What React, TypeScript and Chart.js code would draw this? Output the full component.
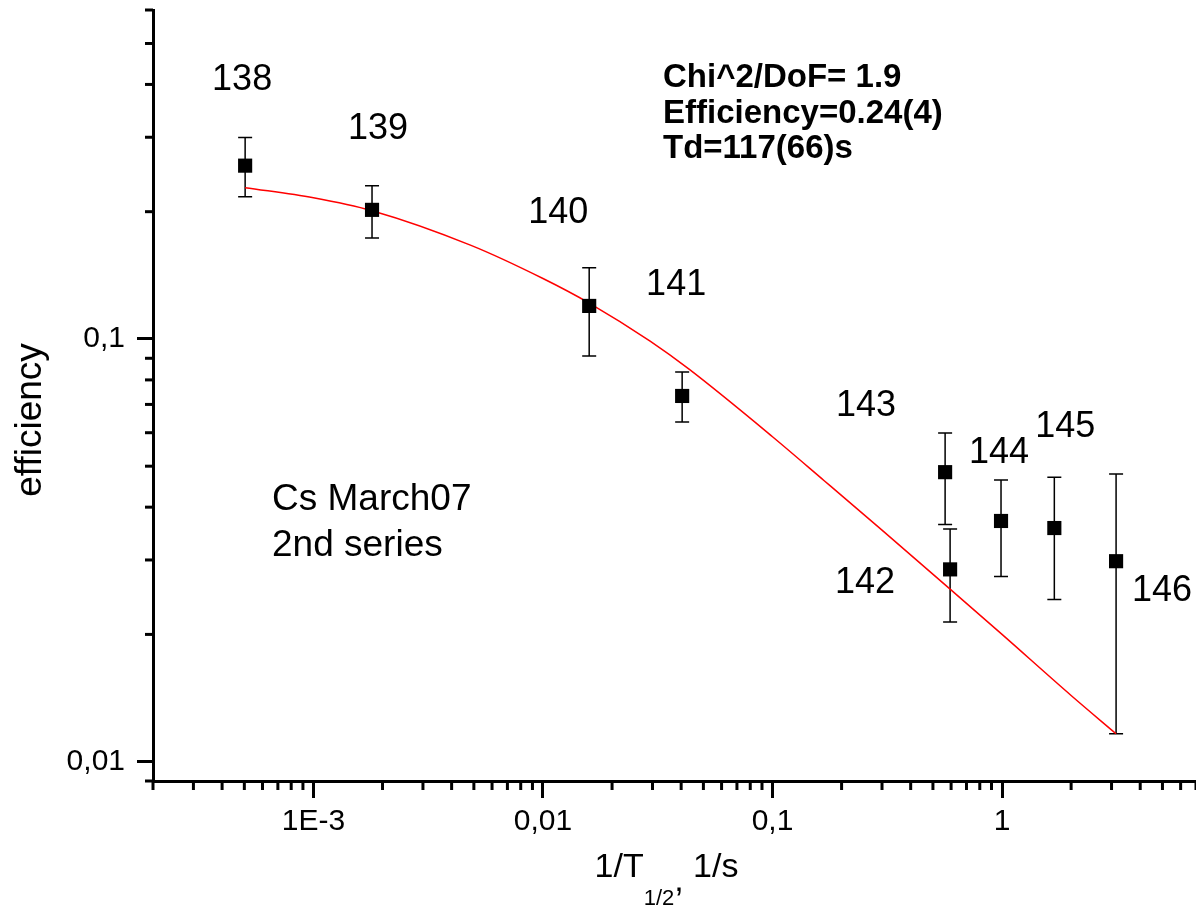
import React, { useEffect, useRef } from 'react';
import { Chart, registerables } from 'chart.js';

Chart.register(...registerables);

// isotopes (Cs mass numbers) used as point labels
const isotopes = ['138', '139', '140', '141', '142', '143', '144', '145', '146'];
// 1/T1/2 in 1/s
const invHalfLife = [5.04e-4, 1.8e-3, 0.0159, 0.0404, 0.594, 0.565, 0.99, 1.69, 3.14];
const efficiency = [0.257, 0.202, 0.1197, 0.0733, 0.0285, 0.0484, 0.0371, 0.0357, 0.0298];
const effUpper = [0.2995, 0.2305, 0.1473, 0.0835, 0.0355, 0.0599, 0.0464, 0.0471, 0.0479];
const effLower = [0.217, 0.1734, 0.0911, 0.0636, 0.0214, 0.0364, 0.0274, 0.0242, 0.01164];

// fitted curve
const fitX = [5.04e-4, 1.0e-3, 1.8e-3, 4.86e-3, 0.01, 0.0159, 0.0293, 0.0433, 0.1, 0.168, 0.3, 0.594, 1.0, 2.0, 3.14];
const fitY = [0.228, 0.2158, 0.2011, 0.1665, 0.139, 0.1216, 0.0988, 0.0848, 0.0587, 0.0462, 0.0353, 0.0256, 0.02, 0.01434, 0.01164];

const xMajorTicks = [1e-3, 0.01, 0.1, 1];
const xTickLabels = ['1E-3', '0,01', '0,1', '1'];
const yMajorTicks = [0.01, 0.1];
const yTickLabels = ['0,01', '0,1'];

const fitInfo = ['Chi^2/DoF= 1.9', 'Efficiency=0.24(4)', 'Td=117(66)s'];
const sampleInfo = ['Cs March07', '2nd series'];

const X_MIN = 2e-4;
const X_MAX = 7;
const Y_MIN = 0.009;
const Y_MAX = 0.6;

// label placement, pixel offsets from each point
const labelOffsets = [
  [-3, -86], [6, -81], [-31, -93], [-6, -111], [-85, 14],
  [-79, -66], [-2, -68], [11, -101], [46, 30],
];

const FONT = '"Liberation Sans", Arial, Helvetica, sans-serif';

function logTicks(min: number, max: number) {
  const ticks: { value: number; major: boolean }[] = [];
  for (let e = Math.floor(Math.log10(min)); e <= Math.ceil(Math.log10(max)); e++) {
    for (let m = 1; m <= 9; m++) {
      const v = m * Math.pow(10, e);
      if (v >= min * 0.9999 && v <= max * 1.0001) ticks.push({ value: v, major: m === 1 });
    }
  }
  return ticks;
}

function labelFor(value: number, majors: number[], labels: string[]) {
  const i = majors.findIndex((m) => Math.abs(Math.log10(m) - Math.log10(value)) < 1e-6);
  return i >= 0 ? labels[i] : '';
}

const extras = {
  id: 'extras',
  beforeDatasetsDraw(chart: any) {
    const { ctx, scales } = chart;
    const x = scales.x;
    const y = scales.y;
    ctx.save();
    ctx.strokeStyle = '#000';
    ctx.lineWidth = 1.5;
    invHalfLife.forEach((v, i) => {
      const px = x.getPixelForValue(v);
      const top = y.getPixelForValue(effUpper[i]);
      const bot = y.getPixelForValue(effLower[i]);
      ctx.beginPath();
      ctx.moveTo(px, top);
      ctx.lineTo(px, bot);
      ctx.moveTo(px - 7, top);
      ctx.lineTo(px + 7, top);
      ctx.moveTo(px - 7, bot);
      ctx.lineTo(px + 7, bot);
      ctx.stroke();
    });
    ctx.restore();
  },
  afterDraw(chart: any) {
    const { ctx, chartArea: area, scales } = chart;
    const x = scales.x;
    const y = scales.y;
    ctx.save();

    // minor ticks
    ctx.strokeStyle = '#000';
    ctx.lineWidth = 3;
    x.ticks.forEach((t: any) => {
      if (t.major) return;
      const px = x.getPixelForValue(t.value);
      ctx.beginPath();
      ctx.moveTo(px, area.bottom);
      ctx.lineTo(px, area.bottom + 9);
      ctx.stroke();
    });
    y.ticks.forEach((t: any) => {
      if (t.major) return;
      const py = y.getPixelForValue(t.value);
      ctx.beginPath();
      ctx.moveTo(area.left, py);
      ctx.lineTo(area.left - 8, py);
      ctx.stroke();
    });

    ctx.fillStyle = '#000';

    // isotope labels
    ctx.font = `36px ${FONT}`;
    ctx.textAlign = 'center';
    ctx.textBaseline = 'middle';
    isotopes.forEach((label, i) => {
      const px = x.getPixelForValue(invHalfLife[i]) + labelOffsets[i][0];
      const py = y.getPixelForValue(efficiency[i]) + labelOffsets[i][1];
      ctx.fillText(label, px, py);
    });

    // text blocks
    ctx.textAlign = 'left';
    ctx.font = `37px ${FONT}`;
    sampleInfo.forEach((line, i) => {
      ctx.fillText(line, area.left + 119, area.top + 490 + i * 46);
    });
    ctx.font = `bold 33px ${FONT}`;
    fitInfo.forEach((line, i) => {
      ctx.fillText(line, area.left + 510, area.top + 68 + i * 35.5);
    });

    // y title
    ctx.save();
    ctx.translate(31, 420);
    ctx.rotate(-Math.PI / 2);
    ctx.font = `37px ${FONT}`;
    ctx.textAlign = 'center';
    ctx.fillText('efficiency', 0, 0);
    ctx.restore();

    // x title with subscript
    const big = `34px ${FONT}`;
    const small = `22px ${FONT}`;
    ctx.textBaseline = 'alphabetic';
    ctx.textAlign = 'left';
    ctx.font = big;
    const w1 = ctx.measureText('1/T').width;
    const w3 = ctx.measureText(', 1/s').width;
    ctx.font = small;
    const w2 = ctx.measureText('1/2').width;
    let cx = (area.left + area.right) / 2 - (w1 + w2 + w3) / 2 - 8;
    const base = 877;
    ctx.font = big;
    ctx.fillText('1/T', cx, base);
    cx += w1;
    ctx.font = small;
    ctx.fillText('1/2', cx, base + 28);
    cx += w2;
    ctx.font = big;
    ctx.fillText(',', cx, base + 14);
    cx += ctx.measureText(',').width;
    ctx.fillText(' 1/s', cx, base);

    ctx.restore();
  },
};

const App: React.FC = () => {
  const canvasRef = useRef<HTMLCanvasElement>(null);

  useEffect(() => {
    if (!canvasRef.current) return;
    const ctx = canvasRef.current.getContext('2d');
    if (!ctx) return;

    const tickColor = (c: any) => (c.tick && c.tick.major ? '#000' : 'rgba(0,0,0,0)');

    const chart = new Chart(ctx, {
      type: 'scatter',
      data: {
        datasets: [
          {
            label: 'efficiency',
            data: invHalfLife.map((v, i) => ({ x: v, y: efficiency[i] })),
            pointStyle: 'rect',
            pointRadius: 10,
            pointBackgroundColor: '#000',
            pointBorderWidth: 0,
            showLine: false,
          },
          {
            type: 'line',
            label: 'fit',
            data: fitX.map((v, i) => ({ x: v, y: fitY[i] })),
            borderColor: '#ff0000',
            borderWidth: 1.5,
            pointRadius: 0,
            cubicInterpolationMode: 'monotone',
            fill: false,
          },
        ],
      },
      options: {
        responsive: false,
        animation: false,
        layout: { autoPadding: false, padding: { top: 10, right: 0, left: 0, bottom: 0 } },
        plugins: {
          legend: { display: false },
          tooltip: { enabled: false },
        },
        scales: {
          x: {
            type: 'logarithmic',
            min: X_MIN,
            max: X_MAX,
            afterBuildTicks: (scale: any) => {
              scale.ticks = logTicks(X_MIN, X_MAX);
            },
            afterFit: (scale: any) => {
              scale.height = 132;
              scale.paddingLeft = 0;
              scale.paddingRight = 0;
            },
            grid: {
              display: true,
              drawOnChartArea: false,
              drawTicks: true,
              tickLength: 17,
              tickWidth: 3,
              tickColor,
            },
            border: { display: true, color: '#000', width: 3 },
            ticks: {
              autoSkip: false,
              maxRotation: 0,
              minRotation: 0,
              padding: 6,
              color: '#000',
              font: { family: FONT, size: 30 },
              callback: (value: any) => labelFor(Number(value), xMajorTicks, xTickLabels),
            },
          },
          y: {
            type: 'logarithmic',
            min: Y_MIN,
            max: Y_MAX,
            afterBuildTicks: (scale: any) => {
              scale.ticks = logTicks(Y_MIN, Y_MAX);
            },
            afterFit: (scale: any) => {
              scale.width = 153;
              scale.paddingTop = 0;
              scale.paddingBottom = 0;
            },
            grid: {
              display: true,
              drawOnChartArea: false,
              drawTicks: true,
              tickLength: 16,
              tickWidth: 3,
              tickColor,
            },
            border: { display: true, color: '#000', width: 3 },
            ticks: {
              autoSkip: false,
              padding: 12,
              color: '#000',
              font: { family: FONT, size: 30 },
              callback: (value: any) => labelFor(Number(value), yMajorTicks, yTickLabels),
            },
          },
        },
      },
      plugins: [extras],
    } as any);

    return () => {
      chart.destroy();
    };
  }, []);

  return (
    <div style={{ position: 'fixed', left: 0, top: 0, width: 1196, height: 913, background: '#fff' }}>
      <canvas ref={canvasRef} width={1196} height={913} style={{ display: 'block' }} />
    </div>
  );
};

export default App;
